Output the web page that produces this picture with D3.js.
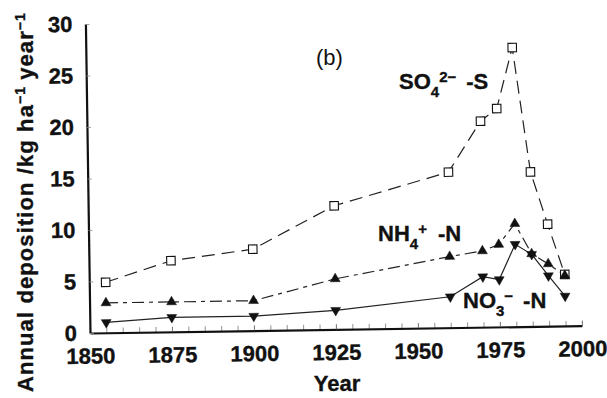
<!DOCTYPE html>
<html><head><meta charset="utf-8">
<script src="https://cdn.jsdelivr.net/npm/d3@7"></script>
<style>
html,body{margin:0;padding:0;background:#fff;}
svg{display:block;font-family:"Liberation Sans",Arial,Helvetica,sans-serif;}
</style></head><body>
<svg id="c" width="607" height="398"></svg>
<script>
// ---- data ----
const years = [1855, 1875, 1900, 1925, 1960, 1970, 1975, 1980, 1985, 1990, 1995];
const so4S  = [4.9, 6.9, 7.9, 12.0, 15.1, 20.0, 21.2, 27.1, 15.0, 9.9, 5.0];
const nh4N  = [2.9, 2.9, 2.9, 4.9, 6.9, 7.4, 8.0, 10.0, 7.05, 6.05, 4.9];
const no3N  = [1.0, 1.4, 1.4, 1.85, 3.0, 4.9, 4.6, 8.0, 7.0, 4.9, 2.9];
const xTickLabels = [1850, 1875, 1900, 1925, 1950, 1975, 2000];
const xMinorTicks = [1850,1855,1860,1865,1870,1875,1880,1885,1890,1895,1900,1905,1910,1915,1920,1925,1930,1935,1940,1945,1950,1955,1960,1965,1970,1975,1980,1985,1990,1995,2000];
const yTickLabels = [0, 5, 10, 15, 20, 25, 30];

const svg = d3.select('#c');
const ink = '#111';
const x = d3.scaleLinear().domain([1850, 2000]).range([90, 582]);
const y = d3.scaleLinear().domain([0, 30]).range([333, 24]);

// slightly skewed like the scanned original
const g = svg.append('g').attr('transform', 'rotate(-0.85,90,333)');

function heavy(sel) {
  sel.attr('font-size', 22).attr('font-weight', 'bold').attr('fill', ink)
    .attr('stroke', ink).attr('stroke-width', 0.35)
    .attr('font-family', '"Liberation Sans",Arial,sans-serif');
}

// minor x ticks
const gMinor = g.append('g').attr('transform', `translate(0,${y(0)})`)
  .call(d3.axisBottom(x).tickValues(xMinorTicks).tickSizeInner(-5).tickSizeOuter(0).tickFormat(''));
gMinor.select('.domain').remove();
gMinor.selectAll('line').attr('stroke', '#777').attr('stroke-width', 0.8);

// major x axis
const gx = g.append('g').attr('transform', `translate(0,${y(0)})`)
  .call(d3.axisBottom(x).tickValues(xTickLabels).tickSizeInner(-5).tickSizeOuter(0).tickPadding(15).tickFormat(d3.format('d')));
gx.select('.domain').attr('stroke', ink).attr('stroke-width', 2.2);
gx.selectAll('line').attr('stroke', '#777').attr('stroke-width', 0.8);
heavy(gx.selectAll('text'));

// y axis
const gy = g.append('g').attr('transform', `translate(${x(1850)},0)`)
  .call(d3.axisLeft(y).tickValues(yTickLabels).tickSizeInner(-4).tickSizeOuter(0).tickPadding(13));
gy.select('.domain').attr('stroke', ink).attr('stroke-width', 2.2);
gy.selectAll('line').attr('stroke', '#888').attr('stroke-width', 0.8);
heavy(gy.selectAll('text'));

// series
const series = [
  { vals: so4S, dash: '13,7', marker: 'square' },
  { vals: nh4N, dash: '12,5,4,5', marker: 'up' },
  { vals: no3N, dash: null, marker: 'down' }
];
const line = d3.line().x(d => x(d[0])).y(d => y(d[1]));
series.forEach(s => {
  const pts = years.map((yr, i) => [yr, s.vals[i]]);
  g.append('path').datum(pts).attr('d', line).attr('fill', 'none')
    .attr('stroke', '#222').attr('stroke-width', 1.2)
    .attr('stroke-dasharray', s.dash);
});
series.forEach(s => {
  const pts = years.map((yr, i) => [yr, s.vals[i]]);
  const sym = s.marker === 'square' ? d3.symbol().type(d3.symbolSquare).size(72)
                                    : d3.symbol().type(d3.symbolTriangle).size(42);
  g.append('g').selectAll('path').data(pts).join('path')
    .attr('d', sym)
    .attr('transform', d => `translate(${x(d[0])},${y(d[1])})` + (s.marker === 'down' ? ' rotate(180)' : ''))
    .attr('fill', s.marker === 'square' ? '#fff' : ink)
    .attr('stroke', ink).attr('stroke-width', s.marker === 'square' ? 1.1 : 0.5);
});

// chemical labels
function chemLabel(x0, y0, parts) {
  const t = svg.append('text').attr('x', x0).attr('y', y0);
  heavy(t);
  let shift = 0;
  parts.forEach(p => {
    const target = p.k === 'sub' ? 8 : p.k === 'sup' ? -7 : 0;
    const ts = t.append('tspan').attr('dy', target - shift)
      .attr('font-size', p.k === 'n' ? 22 : 15).text(p.t);
    if (p.dx) ts.attr('dx', p.dx);
    shift = target;
  });
}
chemLabel(399, 89, [{t:'SO',k:'n'},{t:'4',k:'sub'},{t:'2−',k:'sup'},{t:'-S',k:'n',dx:10}]);
chemLabel(378, 241, [{t:'NH',k:'n'},{t:'4',k:'sub'},{t:'+',k:'sup'},{t:'-N',k:'n',dx:11}]);
chemLabel(463, 308, [{t:'NO',k:'n'},{t:'3',k:'sub'},{t:'−',k:'sup'},{t:'-N',k:'n',dx:10}]);

svg.append('text').attr('x', 316).attr('y', 65).attr('font-size', 22).attr('fill', ink).text('(b)');

// axis titles
const xt = svg.append('text').attr('x', 337).attr('y', 391).attr('text-anchor', 'middle').text('Year');
heavy(xt);

const yt = svg.append('text').attr('transform', 'translate(33,202) rotate(-90)')
  .attr('text-anchor', 'middle').attr('letter-spacing', 1.1);
heavy(yt);
yt.append('tspan').text('Annual deposition /kg ha');
yt.append('tspan').attr('dy', -8).attr('font-size', 14).text('−1');
yt.append('tspan').attr('dy', 8).attr('dx', 6).text('year');
yt.append('tspan').attr('dy', -8).attr('font-size', 14).text('−1');
</script>
</body></html>
